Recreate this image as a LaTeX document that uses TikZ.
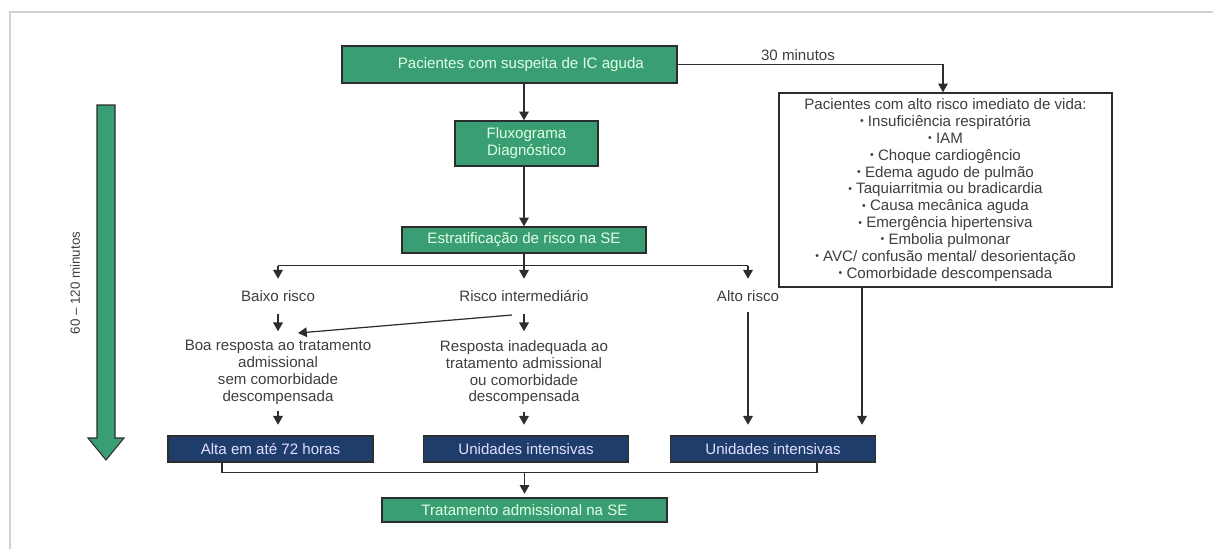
\documentclass[tikz,border=0pt]{standalone}
\usepackage{xcolor}
\usepackage{fontspec}
\setmainfont{Liberation Sans}
\usepackage{tikz}
\usetikzlibrary{arrows.meta, positioning, calc}
\definecolor{boxgreen}{RGB}{58,158,116}
\definecolor{boxnavy}{RGB}{31,61,106}
\definecolor{linegray}{RGB}{45,45,45}
\definecolor{txtgray}{RGB}{62,62,62}
\newcommand{\pto}{\raisebox{0.2ex}{\fontsize{6}{6}\selectfont•}\ }
\tikzstyle{greenbox} = [rectangle, draw=linegray, line width=0.8pt, fill=boxgreen, text=white!88!green, inner sep=0pt, align=center, font=\fontsize{8.6}{9.6}\selectfont]
\tikzstyle{navybox} = [rectangle, draw=linegray, line width=0.8pt, fill=boxnavy, text=white!88!blue, inner sep=0pt, minimum width=4.1cm, minimum height=0.52cm, align=center, font=\fontsize{8.6}{9.6}\selectfont]
\tikzstyle{plain} = [inner sep=0pt, align=center, text=txtgray, font=\fontsize{8.6}{9.6}\selectfont]
\tikzstyle{listbox} = [rectangle, draw=linegray, line width=0.8pt, fill=white, inner sep=0pt, align=center, text=txtgray, font=\fontsize{8.6}{9.6}\selectfont]
\tikzstyle{link} = [draw=linegray, line width=0.7pt]
\tikzstyle{flow} = [link, -{Triangle[width=5.5pt,length=5pt]}]

\begin{document}
\begin{tikzpicture}[x=0.02cm, y=-0.02cm]
		\useasboundingbox (0,0) rectangle (1213,549);
		\draw[gray!35, line width=0.6pt] (10,549) -- (10,12) -- (1213,12);
		% time arrow
		\filldraw[fill=boxgreen, draw=linegray, line width=0.6pt] (97,105) -- (115,105) -- (115,438) -- (124,438) -- (106,460) -- (88,438) -- (97,438) -- cycle;
		\node (Tempo)[plain, rotate=90, font=\fontsize{7.6}{9}\selectfont] at (75,283) {60 -- 120 minutos};
		% top part
		\node (Suspeita)[greenbox, minimum width=6.7cm, minimum height=0.74cm] at (509.5,64.5) {\hspace{1.5em}Pacientes com suspeita de IC aguda};
		\node (Fluxo)[greenbox, minimum width=2.86cm, minimum height=0.9cm] at (526.5,143.5) {Fluxograma\\Diagnóstico};
		\node (Estrat)[greenbox, minimum width=4.88cm, minimum height=0.52cm] at (524,240) {Estratificação de risco na SE};
		\node (AltoRisco)[listbox, minimum width=6.66cm, minimum height=3.88cm] at (945.5,190) {Pacientes com alto risco imediato de vida:\\
			\pto Insuficiência respiratória\\
			\pto IAM\\
			\pto Choque cardiogêncio\\
			\pto Edema agudo de pulmão\\
			\pto Taquiarritmia ou bradicardia\\
			\pto Causa mecânica aguda\\
			\pto Emergência hipertensiva\\
			\pto Embolia pulmonar\\
			\pto AVC/ confusão mental/ desorientação\\
			\pto Comorbidade descompensada};
		\node (Trinta)[plain] at (798,55) {30 minutos};
		% risk levels
		\node (Baixo)[plain] at (278,296) {Baixo risco};
		\node (Intermed)[plain] at (524,296) {Risco intermediário};
		\node (Alto)[plain] at (748,296) {Alto risco};
		\node (Boa)[plain, anchor=north] at (278,340) {Boa resposta ao tratamento\\admissional\\sem comorbidade\\descompensada};
		\node (Inadequada)[plain, anchor=north] at (524,340) {Resposta inadequada ao\\tratamento admissional\\ou comorbidade\\descompensada};
		% destinations
		\node (Alta)[navybox] at (270.5,449) {Alta em até 72 horas};
		\node (UTIa)[navybox] at (526,449) {Unidades intensivas};
		\node (UTIb)[navybox] at (773,449) {Unidades intensivas};
		\node (Tratamento)[greenbox, minimum width=5.7cm, minimum height=0.48cm] at (524.5,510) {Tratamento admissional na SE};
		% connectors
		\draw [flow] (Suspeita.south -| Estrat.center) -- (Estrat.center |- Fluxo.north);
		\draw [flow] (Estrat.center |- Fluxo.south) -- (Estrat.north);
		\draw [flow] (Suspeita.east) -| (AltoRisco.north -| 943,0);
		\draw [link] (Estrat.south) -- ++(0,12) coordinate (Ramo);
		\draw [link] (Baixo.center |- Ramo) -- (Alto.center |- Ramo);
		\draw [flow] (Baixo.center |- Ramo) -- ++(0,13);
		\draw [flow] (Ramo) -- ++(0,13);
		\draw [flow] (Alto.center |- Ramo) -- ++(0,13);
		\draw [flow, shorten <=7pt, shorten >=5pt] (Baixo.south) -- (Boa.north);
		\draw [flow, shorten <=7pt, shorten >=5pt] (Intermed.south) -- (Inadequada.north);
		\draw [flow] ($(Intermed.south)+(-12,13)$) -- ($(Boa.north)+(20,-7)$);
		\draw [flow, shorten <=3.5pt, shorten >=6pt] (Boa.south) -- (Boa.south |- Alta.north);
		\draw [flow, shorten <=3.5pt, shorten >=6pt] (Inadequada.south) -- (Inadequada.south |- UTIa.north);
		\draw [flow, shorten <=6pt, shorten >=6pt] (Alto.south) -- (Alto.south |- UTIb.north);
		\draw [flow, shorten >=6pt] (AltoRisco.south -| 862,0) -- (UTIb.north -| 862,0);
		\draw [link] ($(Alta.south)+(-48.5,0)$) -- ++(0,10) coordinate (Junta) -| ($(UTIb.south)+(44,0)$);
		\draw [flow, shorten >=2pt] (Junta -| Tratamento.north) -- (Tratamento.north);
	\end{tikzpicture}
\end{document}
